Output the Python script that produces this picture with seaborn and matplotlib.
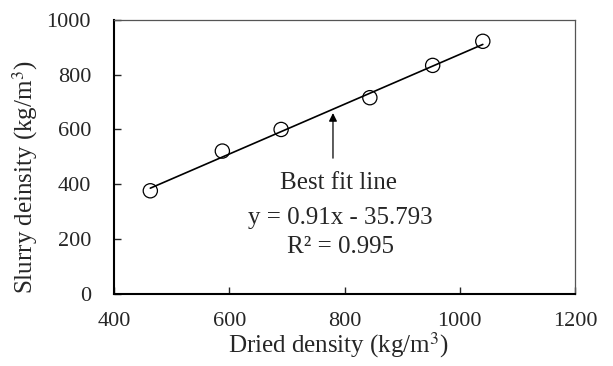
import numpy as np
import pandas as pd
import seaborn as sns
import matplotlib.pyplot as plt

# datos
dried = [463, 588, 690, 844, 953, 1040]
slurry = [376, 521, 600, 716, 834, 922]
pendiente = 0.91
intercepto = -35.793
r2 = 0.995

df = pd.DataFrame({"Dried": dried, "Slurry": slurry})
x_fit = np.array([min(dried), max(dried)])
fit = pd.DataFrame({"Dried": x_fit, "Slurry": pendiente * x_fit + intercepto})

sns.set_style("ticks")
plt.rcParams['font.family'] = ['Liberation Serif', 'DejaVu Serif']
plt.rcParams['mathtext.fontset'] = 'stix'

fig = plt.figure(figsize=(6.13, 3.66), dpi=100)
ax = fig.add_axes([0.186, 0.1975, 0.752, 0.748])

sns.lineplot(data=fit, x="Dried", y="Slurry", color="black", linewidth=1.2, ax=ax)
sns.scatterplot(data=df, x="Dried", y="Slurry", s=105, facecolor="none",
                edgecolor="black", linewidth=0.9, ax=ax, zorder=3)

ax.set_xlim(400, 1200)
ax.set_ylim(0, 1000)
ax.set_xticks(range(400, 1201, 200))
ax.set_yticks(range(0, 1001, 200))
ax.tick_params(direction="in", length=5, width=1, labelsize=16)
ax.tick_params(axis="y", pad=16.5)
ax.tick_params(axis="x", pad=13)
# ejes izquierdo/inferior negros, superior/derecho grises finos
for lado in ["left", "bottom"]:
    ax.spines[lado].set_linewidth(1.5)
    ax.spines[lado].set_color("black")
for lado in ["top", "right"]:
    ax.spines[lado].set_visible(True)
    ax.spines[lado].set_linewidth(0.9)
    ax.spines[lado].set_color("#555555")

ax.set_xlabel("Dried density (kg/m$^3$)", fontsize=18)
ax.set_ylabel("Slurry deinsity (kg/m$^3$)", fontsize=18)
ax.xaxis.set_label_coords(0.486, -0.135)
ax.yaxis.set_label_coords(-0.16, 0.425)

ax.annotate("", xy=(780, 670), xytext=(780, 485),
            arrowprops=dict(arrowstyle="-|>", color="black", lw=0.9,
                            mutation_scale=12))
ax.text(790, 403, "Best fit line", ha="center", va="center", fontsize=18)
ax.text(793, 276, f"y = {pendiente}x - {abs(intercepto)}", ha="center",
        va="center", fontsize=18)
ax.text(793, 172, f"R² = {r2}", ha="center", va="center", fontsize=18)

fig.savefig("out.png", dpi=100)
